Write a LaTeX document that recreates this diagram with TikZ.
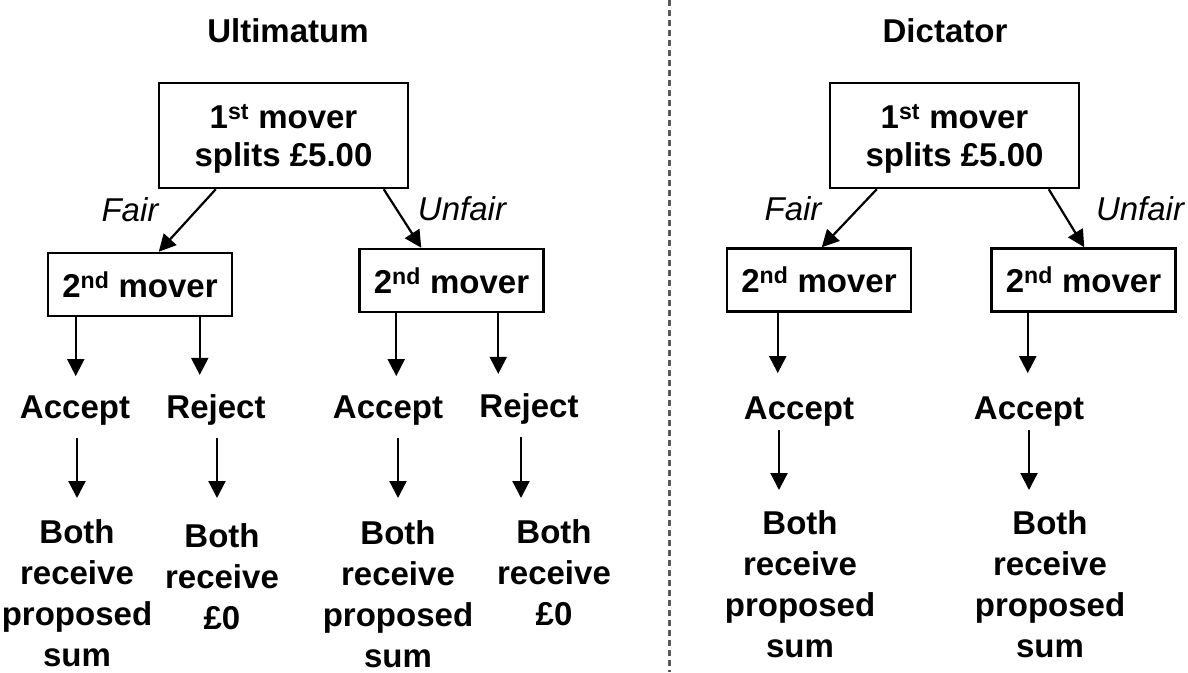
\documentclass[tikz,border=0pt]{standalone}
\usepackage{fontspec}
\setmainfont{Liberation Sans}
\usetikzlibrary{arrows.meta}
\begin{document}
\begin{tikzpicture}[x=1pt,y=-1pt,
  txt/.style={font=\fontsize{33}{41}\selectfont\bfseries, inner sep=0pt, align=center},
  lbl/.style={font=\fontsize{33}{41}\selectfont\itshape, inner sep=0pt},
  topbox/.style={draw, line width=2.5pt, minimum width=249pt, minimum height=105pt, inner sep=0pt, align=center, font=\fontsize{33}{38}\selectfont\bfseries},
  movbox/.style={draw, line width=2.5pt, minimum width=184pt, minimum height=63pt, inner sep=0pt, font=\fontsize{33}{38}\selectfont\bfseries},
  arr/.style={line width=2.2pt, -{Triangle[length=17pt,width=17pt]}},
  divider/.style={draw=black!65, line width=3pt, dash pattern=on 6pt off 4pt}
]
\useasboundingbox (0,0) rectangle (1188,672);

% divider
\coordinate (s1) at (669,0);
\coordinate (s2) at (669,672);
\draw[divider] (s1) -- (s2);

% titles
\node[txt, anchor=base] (tU) at (288,42) {Ultimatum};
\node[txt, anchor=base] (tD) at (945,42) {Dictator};

% first movers
\node[topbox] (ut) at (283.5,135.5) {\rule{0pt}{30pt}1\textsuperscript{st} mover\\splits £5.00};
\node[topbox] (dt) at (954.5,135.5) {\rule{0pt}{30pt}1\textsuperscript{st} mover\\splits £5.00};

% second movers
\node[movbox] (ul) at (140,284.5) {2\textsuperscript{nd} mover};
\node[movbox] (ur) at (451.5,280.5) {2\textsuperscript{nd} mover};
\node[movbox] (dl) at (819,280) {2\textsuperscript{nd} mover};
\node[movbox] (dr) at (1083.5,280) {2\textsuperscript{nd} mover};

% branch labels
\node[lbl, anchor=base] (f1) at (130,221) {Fair};
\node[lbl, anchor=base] (u1) at (462,220) {Unfair};
\node[lbl, anchor=base] (f2) at (793,220) {Fair};
\node[lbl, anchor=base] (u2) at (1140,220) {Unfair};

% decisions
\node[txt, anchor=base] (a1) at (75,418) {Accept};
\node[txt, anchor=base] (r1) at (216,418) {Reject};
\node[txt, anchor=base] (a2) at (388,418) {Accept};
\node[txt, anchor=base] (r2) at (529,417) {Reject};
\node[txt, anchor=base] (a3) at (799,419) {Accept};
\node[txt, anchor=base] (a4) at (1029,419) {Accept};

% outcomes
\node[txt, anchor=north] (b1) at (77,519) {Both\\receive\\proposed\\sum};
\node[txt, anchor=north] (b2) at (222,523) {Both\\receive\\£0};
\node[txt, anchor=north] (b3) at (398,520) {Both\\receive\\proposed\\sum};
\node[txt, anchor=north] (b4) at (554,519) {Both\\receive\\£0};
\node[txt, anchor=north] (b5) at (800,510) {Both\\receive\\proposed\\sum};
\node[txt, anchor=north] (b6) at (1050,510) {Both\\receive\\proposed\\sum};

% diagonal arrows
\draw[arr] ([xshift=58pt]ut.south west) -- ([xshift=112pt]ul.north west);
\draw[arr] ([xshift=226pt]ut.south west) -- ([xshift=63pt]ur.north west);
\draw[arr] ([xshift=48pt]dt.south west) -- ([xshift=96pt]dl.north west);
\draw[arr] ([xshift=220pt]dt.south west) -- ([xshift=94pt]dr.north west);

% box to decision
\draw[arr, shorten >=19pt] ([xshift=29pt]ul.south west) -- ([xshift=29pt]ul.south west |- a1.north);
\draw[arr, shorten >=19pt] ([xshift=153pt]ul.south west) -- ([xshift=153pt]ul.south west |- r1.north);
\draw[arr, shorten >=19pt] ([xshift=38pt]ur.south west) -- ([xshift=38pt]ur.south west |- a2.north);
\draw[arr, shorten >=19pt] ([xshift=140pt]ur.south west) -- ([xshift=140pt]ur.south west |- r2.north);
\draw[arr, shorten >=23pt] ([xshift=52pt]dl.south west) -- ([xshift=52pt]dl.south west |- a3.north);
\draw[arr, shorten >=23pt] ([xshift=37.5pt]dr.south west) -- ([xshift=37.5pt]dr.south west |- a4.north);

% decision to outcome
\draw[arr, shorten <=13pt, shorten >=21pt] ([xshift=2pt]a1.south) -- ([xshift=2pt]a1.south |- b1.north);
\draw[arr, shorten <=13pt, shorten >=25pt] ([xshift=1pt]r1.south) -- ([xshift=1pt]r1.south |- b2.north);
\draw[arr, shorten <=13pt, shorten >=22pt] ([xshift=10pt]a2.south) -- ([xshift=10pt]a2.south |- b3.north);
\draw[arr, shorten <=13pt, shorten >=21pt] ([xshift=-8pt]r2.south) -- ([xshift=-8pt]r2.south |- b4.north);
\draw[arr, shorten <=4pt, shorten >=20pt] ([xshift=-20pt]a3.south) -- ([xshift=-20pt]a3.south |- b5.north);
\draw[arr, shorten <=4pt, shorten >=20pt] (a4.south) -- (a4.south |- b6.north);
\end{tikzpicture}
\end{document}
